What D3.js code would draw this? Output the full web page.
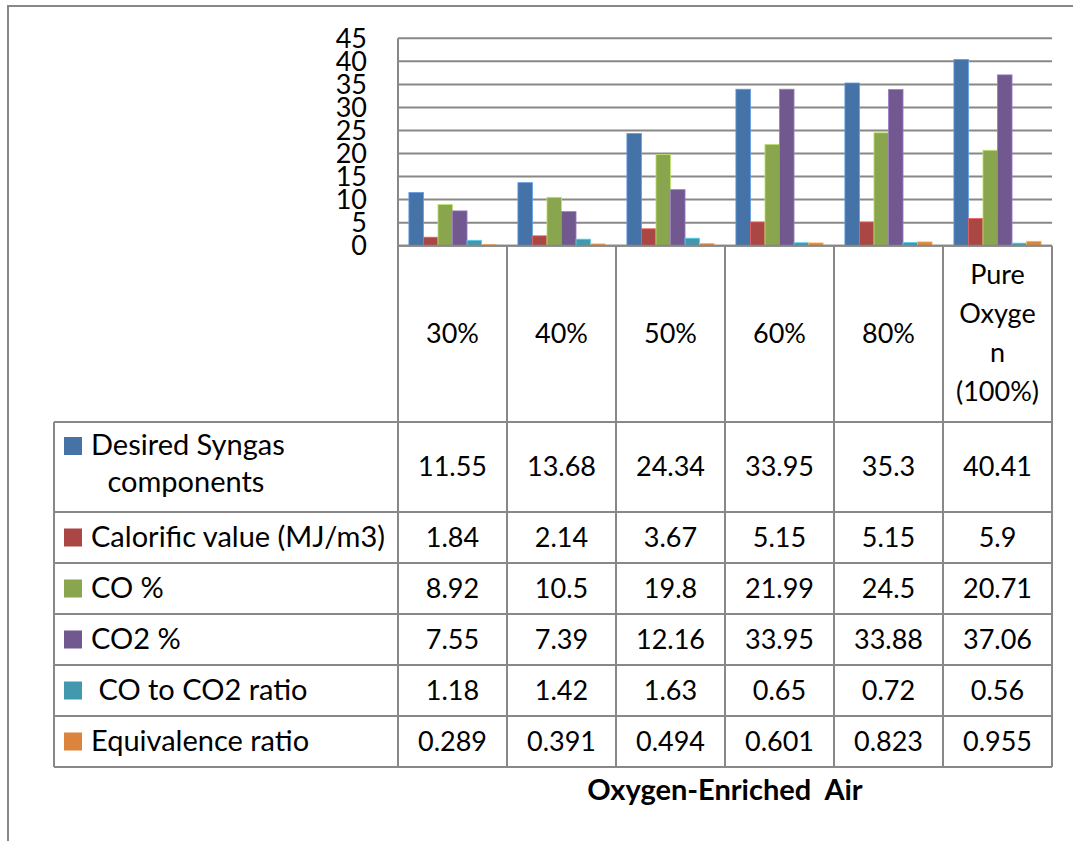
<!DOCTYPE html>
<html>
<head>
<meta charset="utf-8">
<script src="https://cdn.jsdelivr.net/npm/d3@7"></script>
<style>
  body { margin: 0; background: #fff; }
  svg { display: block; font-family: Lato, "Open Sans", sans-serif; }
  text { white-space: pre; }
</style>
</head>
<body>
<svg id="chart" width="1073" height="841"></svg>
<script>
// --- data ---
const categories = ["30%", "40%", "50%", "60%", "80%", "Pure Oxygen (100%)"];
const categoryLines = [["30%"], ["40%"], ["50%"], ["60%"], ["80%"], ["Pure", "Oxyge", "n", "(100%)"]];
const seriesNames = ["Desired Syngas components", "Calorific value (MJ/m3)", "CO %", "CO2 %", " CO to CO2 ratio", "Equivalence ratio"];
const seriesLines = [["Desired Syngas", " components"], ["Calorific value (MJ/m3)"], ["CO %"], ["CO2 %"], [" CO to CO2 ratio"], ["Equivalence ratio"]];
const desiredSyngas = [11.55, 13.68, 24.34, 33.95, 35.3, 40.41];
const calorificValue = [1.84, 2.14, 3.67, 5.15, 5.15, 5.9];
const coPct = [8.92, 10.5, 19.8, 21.99, 24.5, 20.71];
const co2Pct = [7.55, 7.39, 12.16, 33.95, 33.88, 37.06];
const coCo2Ratio = [1.18, 1.42, 1.63, 0.65, 0.72, 0.56];
const equivRatio = [0.289, 0.391, 0.494, 0.601, 0.823, 0.955];
const yTicks = [0, 5, 10, 15, 20, 25, 30, 35, 40, 45];
const colors = ["#4572A7", "#AA4643", "#89A54E", "#71588F", "#4198AF", "#DB843D"];

const seriesValues = [desiredSyngas, calorificValue, coPct, co2Pct, coCo2Ratio, equivRatio];

const svg = d3.select("#chart");
const grid = "#888888";
const fs = 27;

// plot geometry
const plotL = 398, plotR = 1052, plotT = 38.3, zeroY = 245.7;
const tableL = 54;
const rowTops = [422, 512, 563, 614, 665, 716];
const rowBottom = 767;

const x = d3.scaleBand().domain(categories).range([plotL, plotR]).paddingInner(0).paddingOuter(0);
const xs = d3.scaleBand().domain(d3.range(seriesNames.length)).range([0, x.bandwidth()]).paddingInner(0).paddingOuter(0.75);
const y = d3.scaleLinear().domain([0, 45]).range([zeroY, plotT]);

// outer frame
svg.append("path").attr("d", "M8,841V6H1073").attr("fill", "none").attr("stroke", grid).attr("stroke-width", 2);

// gridlines
svg.append("g").selectAll("line").data(yTicks).join("line")
  .attr("x1", plotL).attr("x2", plotR)
  .attr("y1", d => y(d)).attr("y2", d => y(d))
  .attr("stroke", grid).attr("stroke-width", 2);

// y tick labels
svg.append("g").selectAll("text").data(yTicks).join("text")
  .attr("x", 367).attr("y", d => y(d)).attr("dy", "0.36em")
  .attr("text-anchor", "end").attr("font-size", fs).attr("fill", "#000")
  .text(d => d);

// bars
seriesValues.forEach((vals, j) => {
  svg.append("g").selectAll("rect").data(vals).join("rect")
    .attr("x", (d, i) => x(categories[i]) + xs(j))
    .attr("width", xs.bandwidth())
    .attr("y", d => y(d))
    .attr("height", d => zeroY - y(d))
    .attr("fill", colors[j])
    .attr("stroke", d3.color(colors[j]).brighter(0.9))
    .attr("stroke-width", 0.8);
});

// table lines
const tl = svg.append("g").attr("stroke", grid).attr("stroke-width", 2);
tl.append("line").attr("x1", plotL).attr("x2", plotL).attr("y1", plotT).attr("y2", rowBottom);
categories.forEach((c, i) => {
  const xx = x(c) + x.bandwidth();
  tl.append("line").attr("x1", xx).attr("x2", xx).attr("y1", zeroY).attr("y2", rowBottom);
});
tl.append("line").attr("x1", plotL).attr("x2", plotR).attr("y1", zeroY).attr("y2", zeroY);
tl.append("line").attr("x1", tableL).attr("x2", tableL).attr("y1", rowTops[0]).attr("y2", rowBottom);
rowTops.concat([rowBottom]).forEach(yy => {
  tl.append("line").attr("x1", tableL).attr("x2", plotR).attr("y1", yy).attr("y2", yy);
});

// category headers
const hdrMid = (zeroY + rowTops[0]) / 2;
categoryLines.forEach((lines, i) => {
  const t = svg.append("text").attr("text-anchor", "middle").attr("font-size", fs).attr("fill", "#000");
  const cx = x(categories[i]) + x.bandwidth() / 2;
  const lh = 39;
  const y0 = hdrMid + 9 - (lines.length - 1) * lh / 2;
  lines.forEach((ln, k) => t.append("tspan").attr("x", cx).attr("y", y0 + k * lh).text(ln));
});

// legend + value rows
seriesNames.forEach((name, j) => {
  const rt = rowTops[j];
  const rb = j < rowTops.length - 1 ? rowTops[j + 1] : rowBottom;
  const mid = (rt + rb) / 2;
  const lines = seriesLines[j];
  const base = lines.length > 1 ? mid - 12 : mid + 9;
  svg.append("rect").attr("x", 64).attr("y", base - 18).attr("width", 18).attr("height", 18).attr("fill", colors[j]);
  const t = svg.append("text").attr("font-size", 29).attr("fill", "#000");
  lines.forEach((ln, k) => t.append("tspan").attr("x", k ? 100 : 91).attr("y", base + k * 37).text(ln));
  seriesValues[j].forEach((v, i) => {
    svg.append("text").attr("x", x(categories[i]) + x.bandwidth() / 2).attr("y", mid + 9)
      .attr("text-anchor", "middle").attr("font-size", fs).attr("fill", "#000")
      .text(String(v));
  });
});

// axis title
svg.append("text").attr("x", (plotL + plotR) / 2).attr("y", 800)
  .attr("text-anchor", "middle").attr("font-size", 29).attr("font-weight", "bold").attr("fill", "#000")
  .text("Oxygen-Enriched  Air");
</script>
</body>
</html>
